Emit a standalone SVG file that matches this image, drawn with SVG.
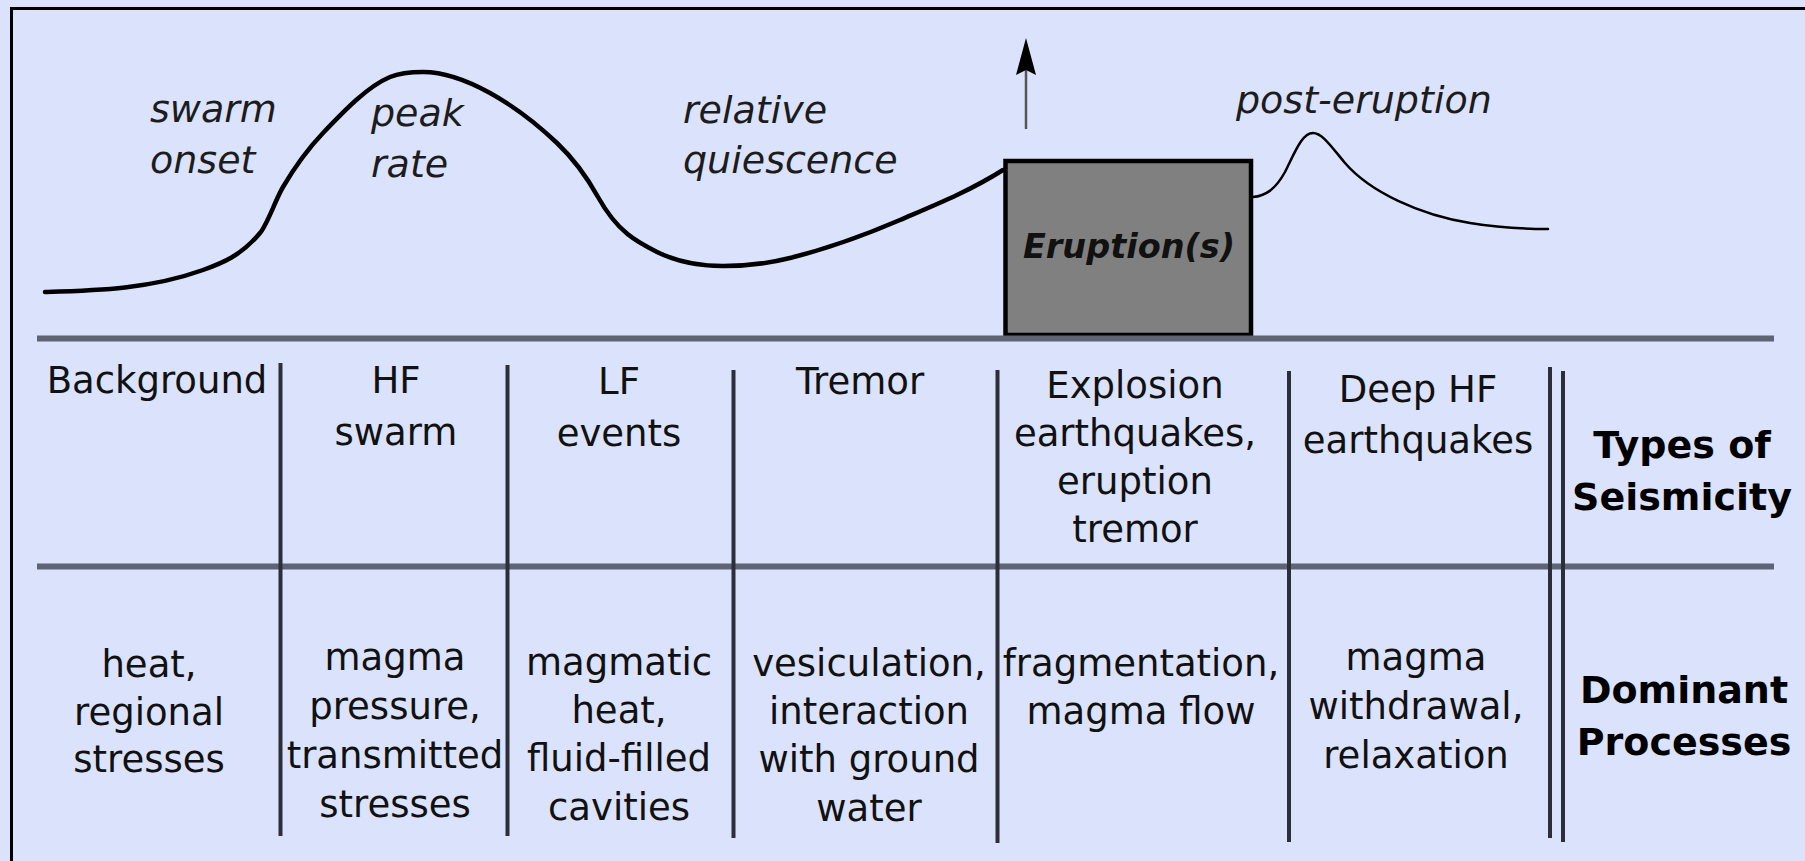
<svg xmlns="http://www.w3.org/2000/svg" width="1805" height="861" viewBox="0 0 1805 861">
<defs>
<style>
.t{font-family:"DejaVu Sans","Liberation Sans",sans-serif;font-size:37px;fill:#111;text-anchor:middle}
.it{font-family:"DejaVu Sans","Liberation Sans",sans-serif;font-size:38px;font-style:italic;fill:#1c1c1c}
.b{font-family:"DejaVu Sans","Liberation Sans",sans-serif;font-size:38px;font-weight:bold;fill:#000;text-anchor:middle}
.h{stroke:#5f6475;stroke-width:6;fill:none}
.v{stroke:#2c2e38;stroke-width:4;fill:none}
</style>
<marker id="ah" markerUnits="userSpaceOnUse" viewBox="-6 -12 40 24" markerWidth="40" markerHeight="24" refX="0" refY="0" orient="auto">
<path d="M32,0 L-5,10 L0,0 L-5,-10 Z" fill="#000"/>
</marker>
</defs>
<rect x="0" y="0" width="1805" height="861" fill="#dbe2fc"/>
<path d="M11.5,861 V8.5 H1805" fill="none" stroke="#000" stroke-width="3"/>

<g id="activity-curve" fill="none" stroke="#000" stroke-linecap="round">
<path stroke-width="4.5" d="M45,292 C97.7,290.4 150.3,289 203,270 C222,263.2 241,255.8 260,233 C267.7,223.8 275.3,200 283,187 C296.3,164.3 309.7,147 323,133 C345.3,109.6 367.7,86.4 390,77 C401,72.4 412,72 423,72 C445.3,72 467.7,80.7 490,93 C512.3,105.3 534.7,121.8 557,143 C570.7,156 584.3,172.4 598,197 C617.7,232.4 637.3,242.2 657,252 C679,262.8 701,266 723,266 C745.3,266 767.7,263.6 790,258 C826.7,248.8 863.3,235.8 900,220 C934.3,205.3 968.7,191.6 1003,170"/>
<path stroke-width="2.5" d="M1253,197 C1265,196 1275,190 1285,172 C1295,152 1302,133 1313,133 C1322,133 1330,145 1345,163 C1370,192 1420,215 1470,223 C1500,228 1530,229 1548,229"/>
</g>

<g id="eruption-box">
<rect x="1005.5" y="161" width="245.5" height="174" fill="#808080" stroke="#000" stroke-width="4.5"/>
<text x="1129" y="258" font-family="DejaVu Sans, Liberation Sans, sans-serif" font-size="33.5" font-weight="bold" font-style="italic" fill="#111" text-anchor="middle">Eruption(s)</text>
</g>

<g id="connectors">
<line x1="1026" y1="129" x2="1026" y2="70" stroke="#555" stroke-width="2.5" marker-end="url(#ah)"/>
</g>

<g id="label-swarm-onset"><text class="it" x="150" y="122">swarm</text><text class="it" x="150" y="173">onset</text></g>
<g id="label-peak-rate"><text class="it" x="371" y="126">peak</text><text class="it" x="371" y="177">rate</text></g>
<g id="label-relative-quiescence"><text class="it" x="683" y="123">relative</text><text class="it" x="683" y="173">quiescence</text></g>
<g id="label-post-eruption"><text class="it" x="1236" y="113">post-eruption</text></g>

<g id="grid">
<line class="h" x1="37" y1="338.5" x2="1774" y2="338.5"/>
<line class="h" x1="37" y1="566.5" x2="1774" y2="566.5"/>
<line class="v" x1="280.5" y1="363" x2="280.5" y2="836" stroke="#151515"/>
<line class="v" x1="507.5" y1="365" x2="507.5" y2="836"/>
<line class="v" x1="733.5" y1="370" x2="733.5" y2="838"/>
<line class="v" x1="997.5" y1="370" x2="997.5" y2="843"/>
<line class="v" x1="1289" y1="371" x2="1289" y2="842"/>
<line class="v" x1="1550" y1="367" x2="1550" y2="838"/>
<line class="v" x1="1563" y1="371" x2="1563" y2="842"/>
</g>

<g id="seismicity-background"><text class="t" x="157" y="393">Background</text></g>
<g id="seismicity-hf-swarm"><text class="t" x="396" y="393">HF</text><text class="t" x="396" y="445">swarm</text></g>
<g id="seismicity-lf-events"><text class="t" x="619" y="394">LF</text><text class="t" x="619" y="446">events</text></g>
<g id="seismicity-tremor"><text class="t" x="860" y="394">Tremor</text></g>
<g id="seismicity-explosion"><text class="t" x="1135" y="398">Explosion</text><text class="t" x="1135" y="446">earthquakes,</text><text class="t" x="1135" y="494">eruption</text><text class="t" x="1135" y="542">tremor</text></g>
<g id="seismicity-deep-hf"><text class="t" x="1418" y="402">Deep HF</text><text class="t" x="1418" y="453">earthquakes</text></g>
<g id="row-title-seismicity"><text class="b" x="1682" y="458">Types of</text><text class="b" x="1682" y="510">Seismicity</text></g>

<g id="process-background"><text class="t" x="149" y="677">heat,</text><text class="t" x="149" y="725">regional</text><text class="t" x="149" y="772">stresses</text></g>
<g id="process-hf-swarm"><text class="t" x="395" y="670">magma</text><text class="t" x="395" y="719">pressure,</text><text class="t" x="395" y="768">transmitted</text><text class="t" x="395" y="817">stresses</text></g>
<g id="process-lf-events"><text class="t" x="619" y="675">magmatic</text><text class="t" x="619" y="723">heat,</text><text class="t" x="619" y="771">fluid-filled</text><text class="t" x="619" y="820">cavities</text></g>
<g id="process-tremor"><text class="t" x="869" y="676">vesiculation,</text><text class="t" x="869" y="724">interaction</text><text class="t" x="869" y="772">with ground</text><text class="t" x="869" y="821">water</text></g>
<g id="process-explosion"><text class="t" x="1141" y="676">fragmentation,</text><text class="t" x="1141" y="724">magma flow</text></g>
<g id="process-deep-hf"><text class="t" x="1416" y="670">magma</text><text class="t" x="1416" y="719">withdrawal,</text><text class="t" x="1416" y="768">relaxation</text></g>
<g id="row-title-processes"><text class="b" x="1684" y="703">Dominant</text><text class="b" x="1684" y="755">Processes</text></g>
</svg>
